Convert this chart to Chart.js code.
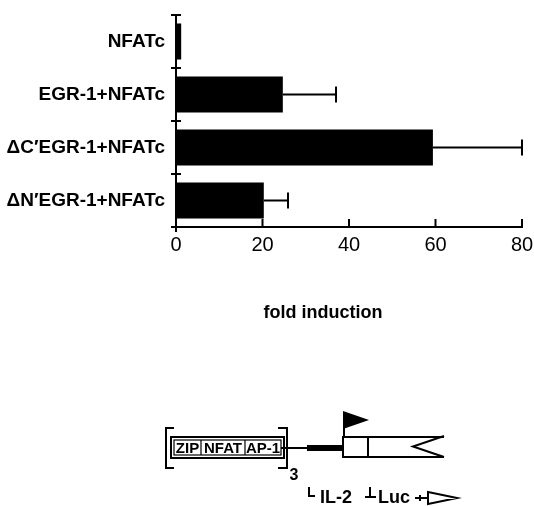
<!DOCTYPE html>
<html>
<head>
<meta charset="utf-8">
<script src="https://cdn.jsdelivr.net/npm/chart.js"></script>
<style>
  html, body { margin: 0; padding: 0; background: #fff; }
  #wrap { width: 534px; height: 506px; }
</style>
</head>
<body>
<div id="wrap"><canvas id="chart"></canvas></div>
<script>
// Data
const categories = ['NFATc', 'EGR-1+NFATc', '\u0394C\u2032EGR-1+NFATc', '\u0394N\u2032EGR-1+NFATc'];
const foldInduction = [1.2, 24.7, 59.4, 20.3];
const errorUpper = [null, 37, 80, 25.9];
const xTicks = [0, 20, 40, 60, 80];

const FONT = "'Liberation Sans', Arial, Helvetica, sans-serif";

// Error bars: line from bar end to upper value, with a vertical cap
const errorBarPlugin = {
    id: 'errorBars',
    afterDatasetsDraw(chart) {
        const ctx = chart.ctx;
        const meta = chart.getDatasetMeta(0);
        const x = chart.scales.x;
        ctx.save();
        ctx.strokeStyle = '#000';
        ctx.lineWidth = 2;
        meta.data.forEach((bar, i) => {
            if (errorUpper[i] == null) return;
            const x0 = x.getPixelForValue(foldInduction[i]);
            const x1 = x.getPixelForValue(errorUpper[i]);
            ctx.beginPath();
            ctx.moveTo(x0, bar.y);
            ctx.lineTo(x1, bar.y);
            ctx.moveTo(x1, bar.y - 8);
            ctx.lineTo(x1, bar.y + 8);
            ctx.stroke();
        });
        ctx.restore();
    }
};

// Inward tick marks on both axes, plus the axis title
const axisTicksPlugin = {
    id: 'axisTicks',
    afterDraw(chart) {
        const ctx = chart.ctx;
        const area = chart.chartArea;
        const x = chart.scales.x;
        const y = chart.scales.y;
        ctx.save();
        ctx.strokeStyle = '#000';
        ctx.lineWidth = 2;
        ctx.beginPath();
        for (let i = 0; i <= categories.length; i++) {
            const py = Math.round(y.getPixelForValue(i - 0.5));
            ctx.moveTo(area.left - 5, py);
            ctx.lineTo(area.left + 5, py);
        }
        xTicks.forEach(v => {
            const px = x.getPixelForValue(v);
            ctx.moveTo(px, area.bottom - 8);
            ctx.lineTo(px, area.bottom + (v === 0 ? 5 : 1));
        });
        ctx.stroke();

        ctx.fillStyle = '#000';
        ctx.font = 'bold 18px ' + FONT;
        ctx.textAlign = 'center';
        ctx.textBaseline = 'alphabetic';
        ctx.fillText('fold induction', 323, 318);
        ctx.restore();
    }
};

// Reporter construct drawn under the chart
const constructPlugin = {
    id: 'construct',
    afterDraw(chart) {
        const ctx = chart.ctx;
        ctx.save();
        ctx.strokeStyle = '#000';
        ctx.fillStyle = '#000';
        ctx.lineWidth = 2;

        // brackets
        ctx.beginPath();
        ctx.moveTo(174, 428); ctx.lineTo(166, 428); ctx.lineTo(166, 468); ctx.lineTo(174, 468);
        ctx.moveTo(278, 428); ctx.lineTo(287, 428); ctx.lineTo(287, 468); ctx.lineTo(278, 468);
        ctx.stroke();

        // element box (double border)
        ctx.strokeRect(171, 437, 113, 21);
        ctx.lineWidth = 1.2;
        ctx.strokeRect(174, 440, 107, 15);
        ctx.beginPath();
        ctx.moveTo(201, 440); ctx.lineTo(201, 455);
        ctx.moveTo(245, 440); ctx.lineTo(245, 455);
        ctx.stroke();

        ctx.font = 'bold 15px ' + FONT;
        ctx.textAlign = 'center';
        ctx.textBaseline = 'middle';
        ctx.fillText('ZIP', 187.5, 448.5);
        ctx.fillText('NFAT', 223, 448.5);
        ctx.fillText('AP-1', 263, 448.5);

        ctx.font = 'bold 16px ' + FONT;
        ctx.fillText('3', 294, 476);

        // linker and minimal promoter
        ctx.lineWidth = 2;
        ctx.beginPath();
        ctx.moveTo(281, 448); ctx.lineTo(307, 448);
        ctx.stroke();
        ctx.fillRect(307, 445, 36, 6);

        // gene box with open arrow end
        ctx.beginPath();
        ctx.moveTo(444, 437); ctx.lineTo(343, 437); ctx.lineTo(343, 457); ctx.lineTo(444, 457);
        ctx.moveTo(368, 437); ctx.lineTo(368, 457);
        ctx.moveTo(444, 436); ctx.lineTo(413, 446.5); ctx.lineTo(444, 457);
        ctx.stroke();

        // transcription start arrow
        ctx.beginPath();
        ctx.moveTo(344, 437); ctx.lineTo(344, 420);
        ctx.stroke();
        ctx.beginPath();
        ctx.moveTo(343, 411); ctx.lineTo(369, 420); ctx.lineTo(343, 429);
        ctx.closePath();
        ctx.fill();

        // labels beneath
        ctx.beginPath();
        ctx.moveTo(309, 487); ctx.lineTo(309, 496); ctx.lineTo(315, 496);
        ctx.moveTo(370, 487); ctx.lineTo(370, 497);
        ctx.moveTo(365, 497); ctx.lineTo(376, 497);
        ctx.moveTo(415, 498); ctx.lineTo(428, 498);
        ctx.moveTo(420, 495); ctx.lineTo(420, 501);
        ctx.moveTo(428, 492); ctx.lineTo(457, 498); ctx.lineTo(428, 504); ctx.closePath();
        ctx.stroke();

        ctx.font = 'bold 18px ' + FONT;
        ctx.textAlign = 'left';
        ctx.textBaseline = 'alphabetic';
        ctx.fillText('IL-2', 320, 503);
        ctx.fillText('Luc', 378, 503);
        ctx.restore();
    }
};

const ctx = document.getElementById('chart').getContext('2d');
const chart = new Chart(ctx, {
    type: 'bar',
    data: {
        labels: categories,
        datasets: [{
            label: 'fold induction',
            data: foldInduction,
            backgroundColor: '#000',
            borderWidth: 0,
            barPercentage: 0.68,
            categoryPercentage: 1
        }]
    },
    options: {
        indexAxis: 'y',
        responsive: true,
        maintainAspectRatio: false,
        animation: false,
        layout: {
            padding: { top: 15, right: 12, bottom: 249, left: 0 }
        },
        plugins: {
            legend: { display: false },
            tooltip: { enabled: false }
        },
        scales: {
            x: {
                min: 0,
                max: 80,
                afterFit: scale => {
                    scale.height = 30;
                    scale.paddingLeft = 0;
                    scale.paddingRight = 0;
                },
                afterBuildTicks: scale => { scale.ticks = xTicks.map(v => ({ value: v })); },
                grid: { display: false, drawTicks: false },
                border: { display: true, color: '#000', width: 2 },
                ticks: {
                    color: '#000',
                    padding: 6,
                    maxRotation: 0,
                    font: { family: FONT, size: 20 }
                }
            },
            y: {
                afterFit: scale => {
                    scale.width = 176;
                    scale.paddingTop = 0;
                    scale.paddingBottom = 0;
                },
                grid: { display: false, drawTicks: false },
                border: { display: true, color: '#000', width: 2 },
                ticks: {
                    color: '#000',
                    padding: 11,
                    font: { family: FONT, size: 19, weight: 'bold' }
                }
            }
        }
    },
    plugins: [errorBarPlugin, axisTicksPlugin, constructPlugin]
});
</script>
</body>
</html>
